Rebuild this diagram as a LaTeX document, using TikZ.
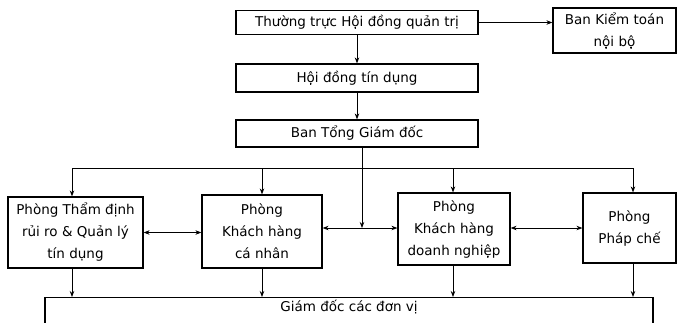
\documentclass[tikz,border=0pt]{standalone}
\usepackage{fontspec}
\setmainfont{DejaVu Sans}
\usetikzlibrary{arrows.meta}
\begin{document}
\begin{tikzpicture}[x=1pt,y=-1pt,
  font=\fontsize{13.5}{22}\selectfont,
  box/.style={draw, line width=1.2pt, align=center, inner sep=2pt, fill=white},
  arr/.style={-{Stealth[length=6pt,width=4.5pt]}, line width=0.8pt},
  darr/.style={{Stealth[length=6pt,width=4.5pt]}-{Stealth[length=6pt,width=4.5pt]}, line width=0.8pt},
  ln/.style={line width=0.8pt}]
\useasboundingbox (0,0) rectangle (677,322);
\clip (0,0) rectangle (677,322);

\node[box, minimum width=242pt, minimum height=24pt] (top) at (357,22.5) {Thường trực Hội đồng quản trị};
\node[box, minimum width=123pt, minimum height=45pt] (bkt) at (614.5,30.5) {Ban Kiểm toán\\nội bộ};
\node[box, minimum width=242pt, minimum height=28pt] (hdtd) at (357,78) {Hội đồng tín dụng};
\node[box, minimum width=242pt, minimum height=27pt] (btgd) at (357,133.5) {Ban Tổng Giám đốc};

\node[box, minimum width=135pt, minimum height=71pt] (tdinh) at (75.5,232.5) {Phòng Thẩm định\\rủi ro \& Quản lý\\tín dụng};
\node[box, minimum width=120pt, minimum height=73pt] (khcn) at (262,231.5) {Phòng\\Khách hàng\\cá nhân};
\node[box, minimum width=112pt, minimum height=72pt] (khdn) at (454,229) {Phòng\\Khách hàng\\doanh nghiệp};
\node[box, minimum width=93pt, minimum height=70pt] (phap) at (629.5,228) {Phòng\\Pháp chế};

\node[box, minimum width=608pt, anchor=north, text height=10pt, text depth=32pt, inner ysep=4pt] (gd) at (349,297) {Giám đốc các đơn vị};

\coordinate (b1) at (72,168);
\coordinate (b2) at (262,168);
\coordinate (b3) at (453,168);
\coordinate (b4) at (633,168);
\coordinate (mid) at (362,228);

% top chain
\draw[arr] (top.east) -- (top.east -| bkt.west);
\draw[arr] (top) -- (hdtd);
\draw[arr] (hdtd) -- (btgd);

% bus
\draw[ln] (b1) -- (b4);
\draw[arr] (btgd.south -| mid) -- (mid);
\draw[arr] (b1) -- (tdinh.north -| b1);
\draw[arr] (b2) -- (khcn.north -| b2);
\draw[arr] (b3) -- (khdn.north -| b3);
\draw[arr] (b4) -- (phap.north -| b4);

% horizontal links
\draw[darr] (tdinh.east) -- (khcn.west |- tdinh.east);
\draw[darr] (khcn.east |- mid) -- (khdn.west |- mid);
\draw[darr] (khdn.east |- mid) -- (phap.west |- mid);

% down to bottom box
\draw[arr] (tdinh.south -| b1) -- (gd.north -| b1);
\draw[arr] (khcn.south -| b2) -- (gd.north -| b2);
\draw[arr] (khdn.south -| b3) -- (gd.north -| b3);
\draw[arr] (phap.south -| b4) -- (gd.north -| b4);
\end{tikzpicture}
\end{document}
